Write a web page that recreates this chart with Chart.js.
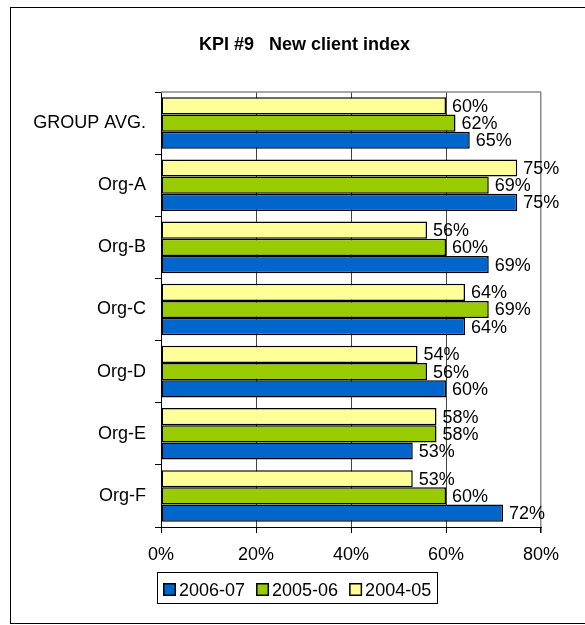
<!DOCTYPE html>
<html>
<head>
<meta charset="utf-8">
<script src="https://cdn.jsdelivr.net/npm/chart.js@4.4.1/dist/chart.umd.min.js"></script>
<style>
  html, body { margin: 0; padding: 0; background: #fff; overflow: hidden; }
  #frame { position: absolute; left: 10px; top: 7px; width: 700px; height: 615px; border: 1px solid #000; }
  #wrap { position: absolute; left: 0; top: 0; width: 585px; height: 625px; }
</style>
</head>
<body>
<div id="frame"></div>
<div id="wrap"><canvas id="kpiChart" width="585" height="625"></canvas></div>
<script>
var categories = ['GROUP AVG.', 'Org-A', 'Org-B', 'Org-C', 'Org-D', 'Org-E', 'Org-F'];
var seriesNames = ['2004-05', '2005-06', '2006-07'];
var values0405 = [60, 75, 56, 64, 54, 58, 53];
var values0506 = [62, 69, 60, 69, 56, 58, 60];
var values0607 = [65, 75, 69, 64, 60, 53, 72];
var xTicks = [0, 20, 40, 60, 80];
var chartTitle = 'KPI #9   New client index';

var FONT = '"Liberation Sans", Arial, sans-serif';
Chart.defaults.font.family = FONT;
Chart.defaults.color = '#000';

// title, sitting a bit right of the plot centre like the original
const topTitle = {
  id: 'topTitle',
  afterDraw(chart) {
    const ctx = chart.ctx;
    ctx.save();
    ctx.font = 'bold 18px ' + FONT;
    ctx.fillStyle = '#000';
    ctx.textAlign = 'center';
    ctx.textBaseline = 'middle';
    ctx.fillText(chartTitle, 304.5, 45);
    ctx.restore();
  }
};

// value labels to the right of each bar
const valueLabels = {
  id: 'valueLabels',
  afterDatasetsDraw(chart) {
    const ctx = chart.ctx;
    ctx.save();
    ctx.font = '18px ' + FONT;
    ctx.fillStyle = '#000';
    ctx.textAlign = 'left';
    ctx.textBaseline = 'middle';
    chart.data.datasets.forEach((ds, i) => {
      chart.getDatasetMeta(i).data.forEach((bar, j) => {
        ctx.fillText(ds.data[j] + '%', bar.x + 6, bar.y + 1);
      });
    });
    ctx.restore();
  }
};

// gray top edge of the plot area
const plotTop = {
  id: 'plotTop',
  beforeDatasetsDraw(chart) {
    const a = chart.chartArea;
    const ctx = chart.ctx;
    ctx.save();
    ctx.strokeStyle = '#888';
    ctx.lineWidth = 1.5;
    ctx.beginPath();
    ctx.moveTo(a.left, a.top);
    ctx.lineTo(a.right, a.top);
    ctx.stroke();
    ctx.restore();
  }
};

// boxed legend under the axis, newest year first
const boxLegend = {
  id: 'boxLegend',
  afterDraw(chart) {
    const ctx = chart.ctx;
    const x0 = 157, y0 = 572, w = 280, h = 31;
    ctx.save();
    ctx.strokeStyle = '#000';
    ctx.lineWidth = 1;
    ctx.strokeRect(x0 + 0.5, y0 + 0.5, w, h);
    ctx.font = '18px ' + FONT;
    ctx.textBaseline = 'alphabetic';
    let x = x0 + 6;
    chart.data.datasets.slice().reverse().forEach(ds => {
      ctx.fillStyle = ds.backgroundColor;
      ctx.fillRect(x, y0 + 11, 12, 12);
      ctx.lineWidth = 1.5;
      ctx.strokeRect(x + 0.75, y0 + 11.75, 11.5, 11.5);
      ctx.fillStyle = '#000';
      ctx.fillText(ds.label, x + 16, y0 + 24);
      x += 16 + ctx.measureText(ds.label).width + 11;
    });
    ctx.restore();
  }
};

const ctx = document.getElementById('kpiChart');
new Chart(ctx, {
  type: 'bar',
  data: {
    labels: categories,
    datasets: [
      { label: seriesNames[0], data: values0405, backgroundColor: '#FFFF99' },
      { label: seriesNames[1], data: values0506, backgroundColor: '#99CC00' },
      { label: seriesNames[2], data: values0607, backgroundColor: '#0066CC' }
    ].map(ds => Object.assign(ds, {
      borderColor: '#000',
      borderWidth: 1.5,
      borderSkipped: false,
      barPercentage: 1,
      categoryPercentage: 0.83
    }))
  },
  options: {
    indexAxis: 'y',
    responsive: false,
    animation: false,
    devicePixelRatio: 1,
    layout: { padding: { left: 0, right: 44, top: 92, bottom: 58 } },
    plugins: {
      legend: { display: false },
      tooltip: { enabled: false },
      title: { display: false }
    },
    scales: {
      x: {
        min: 0,
        max: 80,
        afterBuildTicks: s => { s.ticks = xTicks.map(v => ({ value: v })); },
        afterFit: s => { s.height = 40; },
        ticks: {
          callback: v => v + '%',
          padding: 11,
          maxRotation: 0,
          font: { size: 18 }
        },
        grid: {
          color: c => (c.tick && c.tick.value === 80) ? '#888' : '#444',
          lineWidth: c => (c.tick && c.tick.value === 80) ? 1.5 : 1,
          tickColor: '#000',
          tickLength: 6
        },
        border: { color: '#000', width: 1 }
      },
      y: {
        afterFit: s => { s.width = 161; },
        ticks: { padding: 9, font: { size: 18 } },
        grid: { drawOnChartArea: false, tickColor: '#000', tickLength: 6 },
        border: { color: '#000', width: 1 }
      }
    }
  },
  plugins: [plotTop, valueLabels, boxLegend, topTitle]
});
</script>
</body>
</html>
